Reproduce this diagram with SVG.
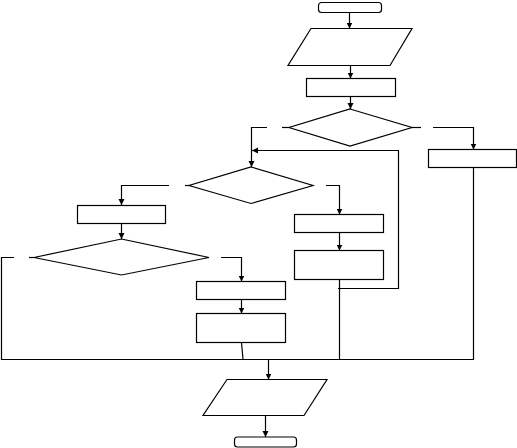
<svg xmlns="http://www.w3.org/2000/svg" width="517" height="448" viewBox="0 0 517 448">
<style>
.n{fill:#fff;stroke:#000;stroke-width:1.2}
.c{fill:none;stroke:#000;stroke-width:1.2}
</style>
<defs>
<marker id="ah" markerUnits="userSpaceOnUse" markerWidth="7" markerHeight="7" refX="6" refY="3" orient="auto">
<path d="M0,0 L6,3 L0,6 z" fill="#000"/>
</marker>
</defs>
<rect width="517" height="448" fill="#fff"/>
<g id="connectors">
<path class="c" d="M349.5,12.5 V28.5" marker-end="url(#ah)"/>
<path class="c" d="M350.5,65.5 V78.5" marker-end="url(#ah)"/>
<path class="c" d="M350.5,96.5 V109" marker-end="url(#ah)"/>
<path class="c" d="M289,127.5 H282"/>
<path class="c" d="M267,127.5 H251.5 V167" marker-end="url(#ah)"/>
<path class="c" d="M412,127.5 H421"/>
<path class="c" d="M433,127.5 H473.5 V149.5" marker-end="url(#ah)"/>
<path class="c" d="M338,288.5 H398.5 V150.5 H252" marker-end="url(#ah)"/>
<path class="c" d="M189,185.5 H185"/>
<path class="c" d="M169,185.5 H121.5 V205" marker-end="url(#ah)"/>
<path class="c" d="M326,185.5 H339.5 V214.5" marker-end="url(#ah)"/>
<path class="c" d="M339.5,232.5 V250.5" marker-end="url(#ah)"/>
<path class="c" d="M339.5,279.5 V359.5"/>
<path class="c" d="M121.5,223.5 V239" marker-end="url(#ah)"/>
<path class="c" d="M34,257.5 H29"/>
<path class="c" d="M14,257.5 H1.5 V359.5 H473.5 V167.5"/>
<path class="c" d="M221,257.5 H241.5 V281.5" marker-end="url(#ah)"/>
<path class="c" d="M241.5,299.5 V313.5" marker-end="url(#ah)"/>
<path class="c" d="M241.5,342.5 L243,359.5" stroke="#555"/>
<path class="c" d="M268.5,359.5 V379.5" marker-end="url(#ah)"/>
<path class="c" d="M265.5,415.5 V437" marker-end="url(#ah)"/>
</g>
<g id="start"><rect class="n" x="318.5" y="2.5" width="63" height="10" rx="3"/></g>
<g id="input1"><polygon class="n" points="311,28.5 412,28.5 390,65.5 288,65.5"/></g>
<g id="process1"><rect class="n" x="306.5" y="78.5" width="89" height="18"/></g>
<g id="decision1"><polygon class="n" points="350,109 412,127.5 350,146 289,127.5"/></g>
<g id="processRight"><rect class="n" x="428.5" y="149.5" width="88" height="18"/></g>
<g id="decision2"><polygon class="n" points="251,167 313,185.5 251,203.5 189,185.5"/></g>
<g id="processE"><rect class="n" x="77.5" y="205.5" width="88" height="18"/></g>
<g id="decision3"><polygon class="n" points="121.5,239 209,257.5 121.5,275 34,257.5"/></g>
<g id="processA"><rect class="n" x="294.5" y="214.5" width="89" height="18"/></g>
<g id="processB"><rect class="n" x="294.5" y="250.5" width="89" height="29"/></g>
<g id="processC"><rect class="n" x="196.5" y="281.5" width="89" height="18"/></g>
<g id="processD"><rect class="n" x="196.5" y="313.5" width="89" height="29"/></g>
<g id="output"><polygon class="n" points="227,379.5 327,379.5 304,415.5 203,415.5"/></g>
<g id="end"><rect class="n" x="234.5" y="437" width="62" height="10" rx="3"/></g>
</svg>
